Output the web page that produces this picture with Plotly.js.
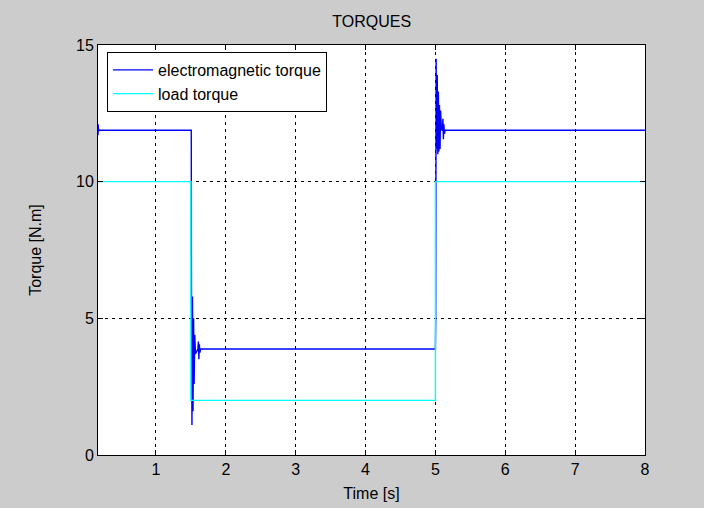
<!DOCTYPE html>
<html>
<head>
<meta charset="utf-8">
<script src="https://cdn.plot.ly/plotly-3.0.1.min.js"></script>
<style>html,body{margin:0;padding:0;background:#cccccc;}#chart{width:704px;height:508px;}</style>
</head>
<body>
<div id="chart"></div>
<script>
// Electromagnetic torque (time in s, torque in N.m)
const emTime = [0.17, 0.172, 0.176, 0.18, 0.19, 1.505, 1.508, 1.515, 1.522, 1.53, 1.538, 1.546, 1.555, 1.565, 1.6, 1.607, 1.614, 1.621, 1.628, 1.64, 5.0, 5.004, 5.01, 5.018, 5.026, 5.034, 5.042, 5.05, 5.058, 5.066, 5.074, 5.085, 5.1, 5.107, 5.114, 5.121, 5.128, 5.14, 8.0];
const emTorque = [11.7, 12.1, 12.05, 11.85, 11.88, 11.88, 6.1, 1.1, 5.8, 1.6, 5.0, 2.6, 4.4, 3.7, 3.88, 4.15, 3.5, 4.05, 3.75, 3.88, 3.88, 4.9, 14.5, 11.2, 13.9, 11.0, 13.3, 11.1, 12.8, 11.2, 12.6, 11.9, 11.88, 12.3, 11.55, 12.1, 11.75, 11.88, 11.88];

// Load torque
const loadTime = [0.17, 1.5, 1.5, 5.0, 5.0, 8.0];
const loadTorque = [10, 10, 2, 2, 10, 10];

const xTicks = [1, 2, 3, 4, 5, 6, 7, 8];
const yTicks = [0, 5, 10, 15];

const FONT = '"Liberation Sans Narrow", "Arial Narrow", "Liberation Sans", Arial, sans-serif';

const traces = [
  {x: emTime, y: emTorque, mode: 'lines', name: 'electromagnetic torque',
   line: {color: '#0000ff', width: 1.4}},
  {x: loadTime, y: loadTorque, mode: 'lines', name: 'load torque',
   line: {color: '#00ffff', width: 1.4}}
];

const gridAxis = {
  showgrid: true, gridcolor: '#000000', gridwidth: 1, griddash: '3px,4px',
  showline: true, linecolor: '#000000', linewidth: 1, mirror: 'ticks',
  ticks: 'inside', ticklen: 5, tickcolor: '#000000',
  zeroline: false, tickfont: {family: FONT, size: 16, color: '#000000'}
};

const layout = {
  width: 704, height: 508,
  paper_bgcolor: '#cccccc', plot_bgcolor: '#ffffff',
  margin: {l: 98, r: 59, t: 45, b: 53},
  title: {text: 'TORQUES', font: {family: FONT, size: 16, color: '#000000'},
          x: 0.528, xanchor: 'center', y: 0.957, yanchor: 'middle'},
  xaxis: Object.assign({}, gridAxis, {
    range: [0.17, 8], tickvals: xTicks, ticktext: xTicks.map(String),
    title: {text: 'Time [s]', font: {family: FONT, size: 16, color: '#000000'}, standoff: 10}
  }),
  yaxis: Object.assign({}, gridAxis, {
    range: [0, 15], tickvals: yTicks, ticktext: yTicks.map(String),
    title: {text: 'Torque [N.m]', font: {family: FONT, size: 16, color: '#000000'}, standoff: 30}
  }),
  showlegend: true,
  legend: {x: 0.0165, y: 0.983, xanchor: 'left', yanchor: 'top',
           bgcolor: '#ffffff', bordercolor: '#000000', borderwidth: 1,
           font: {family: FONT, size: 16, color: '#000000'},
           tracegroupgap: 0, itemwidth: 40}
};

Plotly.newPlot('chart', traces, layout, {displayModeBar: false, staticPlot: true});
</script>
</body>
</html>
